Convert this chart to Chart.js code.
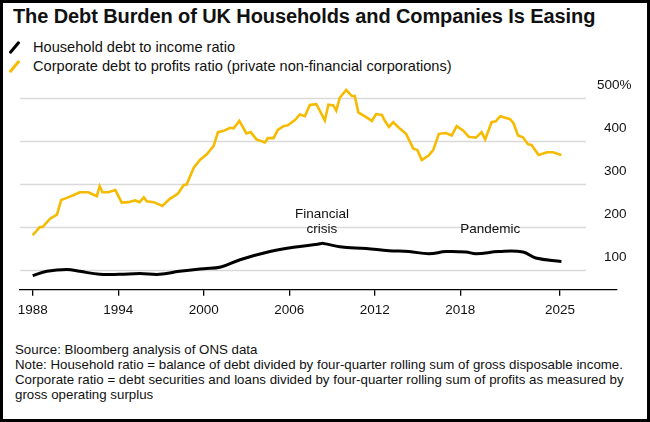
<!DOCTYPE html>
<html><head><meta charset="utf-8">
<script src="https://cdn.jsdelivr.net/npm/chart.js@4"></script>
<style>
html,body{margin:0;padding:0;background:#fff;}
body{width:650px;height:422px;position:relative;overflow:hidden;font-family:"Liberation Sans",Arial,sans-serif;color:#111;}
#frame{position:absolute;left:0;top:0;width:644px;height:416px;border:3px solid #000;}
#title{position:absolute;left:13px;top:5px;font-weight:bold;font-size:20px;letter-spacing:-0.1px;}
.leg{position:absolute;left:33px;font-size:14.6px;}
.ic{position:absolute;left:-20px;top:1px;width:3px;height:15px;transform:rotate(40deg);border-radius:1px;}
#note{position:absolute;left:15px;top:342px;font-size:13.3px;line-height:15px;}
#wrap{position:absolute;left:0;top:70px;width:650px;height:258px;}
</style></head><body>
<div id="frame"></div>
<div id="title">The Debt Burden of UK Households and Companies Is Easing</div>
<div class="leg" style="top:39px"><span class="ic" style="background:#000"></span>Household debt to income ratio</div>
<div class="leg" style="top:58px"><span class="ic" style="background:#f6bb00"></span>Corporate debt to profits ratio (private non-financial corporations)</div>
<div id="wrap"><canvas id="c"></canvas></div>
<div id="note">Source: Bloomberg analysis of ONS data<br>Note: Household ratio = balance of debt divided by four-quarter rolling sum of gross disposable income.<br>Corporate ratio = debt securities and loans divided by four-quarter rolling sum of profits as measured by<br>gross operating surplus</div>
<script>
const corpYears=[1988,1988.5,1988.7,1989.2,1989.7,1990,1990.4,1990.85,1991.3,1991.9,1992.5,1992.7,1992.9,1993.3,1993.8,1994.25,1994.7,1995.2,1995.5,1995.8,1996,1996.5,1997.1,1997.6,1998.2,1998.6,1998.8,1999.3,1999.75,2000.2,2000.7,2001,2001.4,2001.85,2002.1,2002.5,2003,2003.3,2003.7,2004.3,2004.5,2004.9,2005.2,2005.6,2005.9,2006.4,2006.75,2007.1,2007.45,2007.9,2008.1,2008.5,2008.75,2009.1,2009.3,2009.55,2010,2010.4,2010.6,2010.85,2011.4,2011.8,2012.1,2012.5,2012.7,2013,2013.3,2013.8,2014.2,2014.7,2015,2015.3,2015.8,2016.1,2016.5,2017,2017.4,2017.75,2018.2,2018.6,2019.1,2019.5,2019.75,2020.2,2020.5,2020.8,2021.5,2021.75,2022.05,2022.4,2022.75,2023,2023.5,2024.1,2024.5,2025.1];
const corpValues=[180,199,199,218,228,262,267,273,280,280,271,294,280,280,285,256,257,261,257,268,259,257,248,264,277,297,298,337,356,368,388,420,423,430,429,446,417,420,403,396,406,406,425,434,436,448,461,457,483,485,473,447,484,482,470,500,518,504,504,466,455,446,462,460,447,432,443,427,416,382,378,355,366,378,416,418,412,434,424,409,407,420,403,443,445,457,450,440,412,408,392,390,367,373,373,367];
const hhYears=[1988,1989,1990.4,1991.3,1992.7,1994.1,1995.5,1996.9,1998.3,2000,2001.2,2002.55,2004.65,2006.3,2008,2008.4,2009.55,2011.4,2013,2014.4,2015.8,2017,2018.4,2019.1,2020.7,2022.4,2023.3,2025.1];
const hhValues=[86,96,100,96,89,89,91,89,96,102,106,123,142,152,159,161,153,149,144,142,137,142,141,137,142,141,127,119];
const xTicks=[1988,1994,2000,2006,2012,2018,2025];
const yTicks=[100,200,300,400,500];
const notes=[{x:2008.3,y:[213,177],t:["Financial","crisis"]},{x:2020.1,y:[177],t:["Pandemic"]}];

const pts=(xs,vs)=>xs.map((x,i)=>({x:x,y:vs[i]}));
const FONT='"Liberation Sans",Arial,sans-serif';
const deco={id:'deco',
 beforeDatasetsDraw(ch){const {ctx,scales:{x,y}}=ch;ctx.save();ctx.strokeStyle='#d9d9d9';ctx.lineWidth=1.3;
  yTicks.forEach(v=>{const py=Math.round(y.getPixelForValue(v))+0.5;ctx.beginPath();ctx.moveTo(20,py);ctx.lineTo(586,py);ctx.stroke();});
  ctx.fillStyle='#111';ctx.font='13.5px '+FONT;ctx.textAlign='left';ctx.textBaseline='bottom';
  yTicks.forEach(v=>{const py=y.getPixelForValue(v)-6;ctx.fillText(v===500?'500%':String(v),v===500?597:604,py);});
  ctx.textAlign='center';ctx.font='13.5px '+FONT;
  notes.forEach(n=>n.t.forEach((s,i)=>ctx.fillText(s,x.getPixelForValue(n.x),y.getPixelForValue(n.y[i]))));
  ctx.restore();}};
new Chart(document.getElementById('c'),{type:'line',
 data:{datasets:[
  {data:pts(corpYears,corpValues),borderColor:'#f6bb00',borderWidth:2.6,pointRadius:0,tension:0},
  {data:pts(hhYears,hhValues),borderColor:'#000',borderWidth:3,pointRadius:0,tension:0.4}]},
 options:{responsive:true,maintainAspectRatio:false,animation:false,
  layout:{padding:{left:20,right:33,top:17,bottom:4}},
  plugins:{legend:{display:false},tooltip:{enabled:false}},
  scales:{
   x:{type:'linear',min:1987.11,max:2029,
    afterBuildTicks:s=>{s.ticks=xTicks.map(v=>({value:v}));},
    ticks:{color:'#111',font:{size:13.5,family:FONT},callback:v=>String(v),maxRotation:0,autoSkip:false,padding:6},
    grid:{drawOnChartArea:false,drawTicks:true,tickLength:6,color:'#000',lineWidth:1.3},
    border:{display:true,color:'#000',width:1.3}},
   y:{display:false,min:53,max:525}}},
 plugins:[deco]});
</script></body></html>
